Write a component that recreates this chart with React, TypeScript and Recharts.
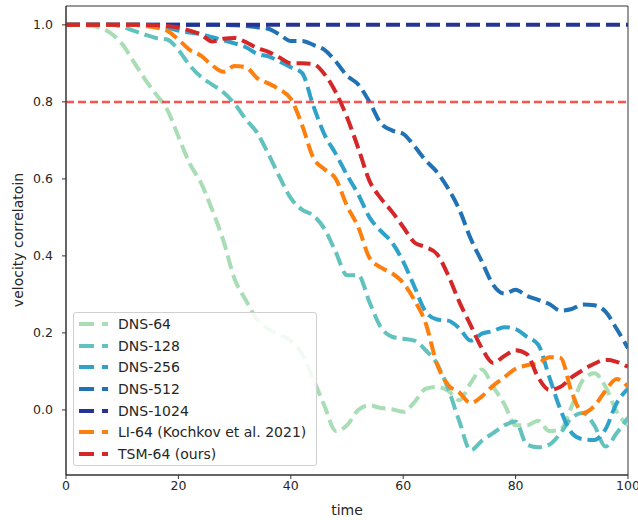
import React from 'react';
import { LineChart, Line, XAxis, YAxis, ReferenceLine, ReferenceArea, Label } from 'recharts';

const times = [0,2,4,6,8,10,12,14,16,18,20,22,24,26,28,30,32,34,36,38,40,42,44,46,48,50,52,54,56,58,60,62,64,66,68,70,72,74,76,78,80,82,84,86,88,90,92,94,96,98,100];

const dns64 = [1.0,1.0,0.998,0.993,0.978,0.95,0.905,0.86,0.82,0.78,0.71,0.64,0.59,0.52,0.44,0.34,0.285,0.235,0.21,0.195,0.18,0.145,0.08,0.01,-0.055,-0.04,0.0,0.012,0.005,0.002,-0.005,0.02,0.055,0.06,0.05,0.025,0.07,0.105,0.06,0.015,-0.04,-0.04,-0.028,-0.055,-0.05,0.01,0.078,0.095,0.06,-0.005,-0.04];
const dns128 = [1.0,1.0,1.0,1.0,1.0,0.995,0.985,0.975,0.966,0.962,0.935,0.895,0.865,0.845,0.825,0.795,0.755,0.72,0.665,0.605,0.55,0.52,0.505,0.47,0.41,0.35,0.35,0.28,0.215,0.19,0.185,0.18,0.155,0.12,0.055,-0.03,-0.105,-0.08,-0.06,-0.04,-0.03,-0.09,-0.097,-0.09,-0.06,-0.02,-0.008,-0.04,-0.095,-0.06,-0.02];
const dns256 = [1.0,1.0,1.0,1.0,1.0,1.0,1.0,1.0,0.998,0.993,0.985,0.98,0.976,0.968,0.96,0.952,0.942,0.925,0.918,0.905,0.89,0.875,0.79,0.715,0.665,0.61,0.56,0.5,0.465,0.435,0.385,0.32,0.255,0.235,0.232,0.212,0.18,0.198,0.205,0.215,0.21,0.19,0.17,0.085,0.0,-0.06,-0.076,-0.078,-0.05,0.018,0.055];
const dns512 = [1.0,1.0,1.0,1.0,1.0,1.0,1.0,1.0,1.0,1.0,1.0,1.0,1.0,1.0,1.0,0.999,0.997,0.994,0.99,0.975,0.958,0.958,0.948,0.935,0.905,0.868,0.845,0.8,0.745,0.726,0.717,0.685,0.648,0.618,0.575,0.52,0.445,0.385,0.325,0.302,0.312,0.296,0.286,0.275,0.258,0.262,0.274,0.272,0.255,0.21,0.16];
const dns1024 = [1.0,1.0,1.0,1.0,1.0,1.0,1.0,1.0,1.0,1.0,1.0,1.0,1.0,1.0,1.0,1.0,1.0,1.0,1.0,1.0,1.0,1.0,1.0,1.0,1.0,1.0,1.0,1.0,1.0,1.0,1.0,1.0,1.0,1.0,1.0,1.0,1.0,1.0,1.0,1.0,1.0,1.0,1.0,1.0,1.0,1.0,1.0,1.0,1.0,1.0,1.0];
const li64 = [1.0,1.0,1.0,1.0,1.0,1.0,1.0,0.997,0.993,0.985,0.962,0.935,0.92,0.895,0.878,0.893,0.89,0.862,0.848,0.832,0.808,0.74,0.655,0.625,0.6,0.53,0.475,0.395,0.37,0.355,0.33,0.285,0.225,0.12,0.065,0.045,0.018,0.035,0.063,0.085,0.107,0.116,0.121,0.137,0.135,0.045,-0.008,0.01,0.05,0.08,0.06];
const tsm64 = [1.0,1.0,1.0,1.0,1.0,1.0,1.0,1.0,0.999,0.997,0.993,0.985,0.975,0.957,0.964,0.966,0.955,0.94,0.93,0.915,0.9,0.9,0.898,0.872,0.825,0.76,0.68,0.595,0.55,0.515,0.475,0.435,0.423,0.405,0.35,0.28,0.22,0.16,0.122,0.14,0.155,0.145,0.085,0.052,0.06,0.085,0.104,0.12,0.13,0.125,0.112];

const seriesNames = ['DNS-64', 'DNS-128', 'DNS-256', 'DNS-512', 'DNS-1024', 'LI-64 (Kochkov et al. 2021)', 'TSM-64 (ours)'];
const seriesKeys = ['dns64', 'dns128', 'dns256', 'dns512', 'dns1024', 'li64', 'tsm64'];
const seriesValues = [dns64, dns128, dns256, dns512, dns1024, li64, tsm64];
const seriesColors = ['#a8ddb5', '#62c2be', '#2ea2c9', '#2171b5', '#253494', '#ff7f0e', '#d62728'];

const xTicks = [0, 20, 40, 60, 80, 100];
const yTicks = [0, 0.2, 0.4, 0.6, 0.8, 1.0];
const threshold = 0.8;
const yMin = -0.169;
const yMax = 1.049;

const data = times.map((t, i) => {
  const row: Record<string, number> = { t };
  seriesKeys.forEach((k, j) => { row[k] = seriesValues[j][i]; });
  return row;
});

const font = '"DejaVu Sans", sans-serif';

function LegendBox() {
  return (
    <div style={{
      position: 'absolute', left: 73, top: 312, width: 244, height: 154,
      border: '1px solid #d0d0d0', borderRadius: 3, background: 'rgba(255,255,255,0.85)',
      fontFamily: font, fontSize: 14, color: '#262626', boxSizing: 'border-box', paddingTop: 0,
    }}>
      {seriesNames.map((name, i) => (
        <div key={name} style={{ height: 21.7, display: 'flex', alignItems: 'center', whiteSpace: 'nowrap' }}>
          <svg width={35} height={10} style={{ marginLeft: 5, flex: 'none' }}>
            <line x1={0} y1={5} x2={29} y2={5} stroke={seriesColors[i]} strokeWidth={4} strokeDasharray="15 8" />
          </svg>
          <span style={{ marginLeft: 4 }}>{name}</span>
        </div>
      ))}
    </div>
  );
}

export default function App() {
  return (
    <div style={{ position: 'absolute', left: 0, top: 0, width: 638, height: 520, background: '#fff' }}>
      <LineChart width={638} height={520} data={data} margin={{ top: 6, right: 10, bottom: 0, left: 0 }}>
        <XAxis dataKey="t" type="number" domain={[0, 100]} ticks={xTicks} allowDataOverflow
          height={45} tickSize={4} tickMargin={2} stroke="#333"
          tick={{ fill: '#262626', fontSize: 12.5, fontFamily: font }}>
          <Label content={() => (
            <text x={347} y={515} textAnchor="middle" fill="#262626" fontSize={14} fontFamily={font}>time</text>
          )} />
        </XAxis>
        <YAxis type="number" domain={[yMin, yMax]} ticks={yTicks} allowDataOverflow
          width={66} tickSize={4} tickMargin={9} stroke="#333"
          tickFormatter={(v: number) => v.toFixed(1)}
          tick={{ fill: '#262626', fontSize: 12.5, fontFamily: font }}>
          <Label content={() => (
            <text x={23} y={240} transform="rotate(-90 23 240)" textAnchor="middle" fill="#262626" fontSize={14} fontFamily={font}>velocity correlatoin</text>
          )} />
        </YAxis>
        <ReferenceArea x1={0} x2={100} y1={yMin} y2={yMax} fill="none" stroke="#333" strokeWidth={1} ifOverflow="visible" />
        {seriesKeys.map((k, i) => (
          <Line key={k} dataKey={k} type="monotone" stroke={seriesColors[i]} strokeWidth={4}
            strokeDasharray="14 6" dot={false} activeDot={false} isAnimationActive={false} />
        ))}
        <ReferenceLine y={threshold} stroke="#ff3333" strokeOpacity={0.85} strokeWidth={2.5} strokeDasharray="8 4" />
      </LineChart>
      <LegendBox />
    </div>
  );
}
